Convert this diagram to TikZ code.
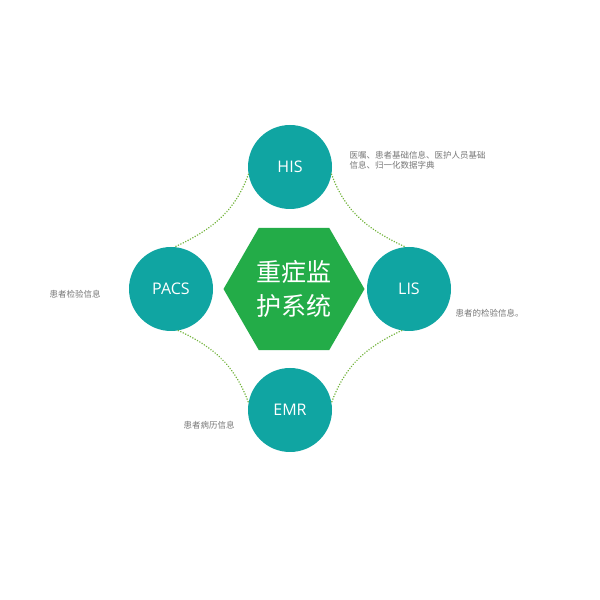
\documentclass[tikz,border=0pt]{standalone}
\usepackage{fontspec}
\setsansfont{Open Sans}
\newfontfamily\cjk{Noto Sans CJK SC}
\usetikzlibrary{shapes.geometric}
\definecolor{tealish}{RGB}{16,165,162}
\definecolor{hexgreen}{RGB}{35,172,72}
\definecolor{dotgreen}{RGB}{115,180,60}
\definecolor{notegray}{RGB}{120,120,120}
\tikzset{%
  module/.style={circle, fill=tealish, minimum size=84pt, inner sep=0pt,
    text=white, font=\sffamily\fontsize{16}{16}\selectfont},% subsystem circle
  core/.style={regular polygon, regular polygon sides=6,
    fill=hexgreen, minimum size=141pt, inner sep=0pt, text=white, align=center,
    font=\cjk\fontsize{25}{34}\selectfont},% central hexagon
  link/.style={dotgreen, line width=1.6pt, dash pattern=on 0.1pt off 2.6pt,
    line cap=round},% dotted arc between circles
  note/.style={anchor=west, text=notegray, align=left,
    font=\cjk\fontsize{8.5}{10}\selectfont}% grey remark
}

\begin{document}
\begin{tikzpicture}[x=1pt,y=1pt]
\path[fill=white] (0,0) rectangle (600,600);
\useasboundingbox (0,0) rectangle (600,600);

\node[core] (icu) at (294,311) {重症监\\护系统};

\node[module] (his)  at (290,433) {HIS};
\node[module] (pacs) at (171,311) {PACS};
\node[module] (lis)  at (409,311) {LIS};
\node[module] (emr)  at (290,190) {EMR};

\draw[link] (his.190) to[out=-110, in=25] (pacs.85);
\draw[link] (his.-10) to[out=-70, in=155] (lis.95);
\draw[link] (pacs.-80) to[out=-25, in=110] (emr.170);
\draw[link] (lis.-100) to[out=-155, in=70] (emr.10);

\node[note] (hisnote)  at (346,440) {医嘱、患者基础信息、医护人员基础\\信息、归一化数据字典};
\node[note] (pacsnote) at (46,306)  {患者检验信息};
\node[note] (lisnote)  at (452,287) {患者的检验信息。};
\node[note] (emrnote)  at (180,175) {患者病历信息};

\end{tikzpicture}
\end{document}
